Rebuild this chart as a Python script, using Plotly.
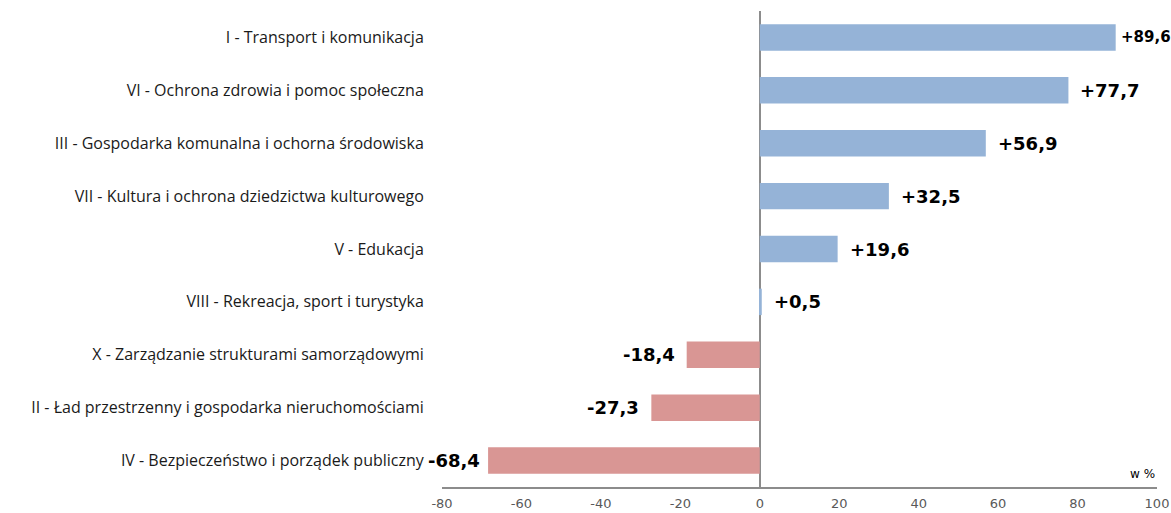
import plotly.graph_objects as go

# Budget categories (top to bottom) and percent change
categories = [
    "I - Transport i komunikacja",
    "VI - Ochrona zdrowia i pomoc społeczna",
    "III - Gospodarka komunalna i ochorna środowiska",
    "VII - Kultura i ochrona dziedzictwa kulturowego",
    "V - Edukacja",
    "VIII - Rekreacja, sport i turystyka",
    "X - Zarządzanie strukturami samorządowymi",
    "II - Ład przestrzenny i gospodarka nieruchomościami",
    "IV - Bezpieczeństwo i porządek publiczny",
]
values = [89.6, 77.7, 56.9, 32.5, 19.6, 0.5, -18.4, -27.3, -68.4]
x_ticks = [-80, -60, -40, -20, 0, 20, 40, 60, 80, 100]

POS = "#95B3D7"
NEG = "#D99694"
X_MIN, X_MAX = -80, 100

def fmt(v):
    s = f"{abs(v):.1f}".replace(".", ",")
    return ("+" if v >= 0 else "-") + s

fig = go.Figure(
    go.Bar(
        x=values,
        y=categories,
        orientation="h",
        marker=dict(color=[POS if v >= 0 else NEG for v in values], line=dict(width=0)),
        hoverinfo="skip",
    )
)

# Value labels just outside each bar end; bars reaching close to the
# axis limits get a tighter gap (and the rightmost a smaller font) so
# the label stays inside the figure.
for c, v in zip(categories, values):
    near_right = v > 0.85 * X_MAX
    near_left = v < 0.8 * X_MIN
    if v >= 0:
        shift = 3 if near_right else 10
    else:
        shift = -6 if near_left else -10
    fig.add_annotation(
        x=v, y=c, xref="x", yref="y",
        text=fmt(v), showarrow=False,
        xanchor="left" if v >= 0 else "right",
        xshift=shift,
        font=dict(family="DejaVu Sans", size=15 if near_right else 18,
                  color="#000000", weight="bold"),
    )

fig.add_annotation(
    x=1, y=0, xref="paper", yref="paper",
    text="w %", showarrow=False,
    xanchor="right", yanchor="bottom", yshift=4,
    font=dict(family="DejaVu Sans", size=12, color="#000000"),
)

fig.update_layout(
    width=1171, height=513,
    margin=dict(l=442, r=13.5, t=10.5, b=26),
    paper_bgcolor="white", plot_bgcolor="white",
    bargap=0.5,
    showlegend=False,
    xaxis=dict(
        range=[X_MIN, X_MAX],
        automargin=False,
        tickvals=x_ticks,
        ticktext=[str(t) for t in x_ticks],
        showgrid=False,
        zeroline=True, zerolinecolor="#8C8C8C", zerolinewidth=1.5,
        showline=True, linecolor="#8C8C8C", linewidth=1.5,
        ticks="outside", ticklen=4, tickcolor="rgba(0,0,0,0)",
        tickfont=dict(family="DejaVu Sans", size=13, color="#595959"),
    ),
    yaxis=dict(
        categoryorder="array", categoryarray=categories,
        autorange="reversed",
        automargin=False,
        showgrid=False, zeroline=False, showline=False,
        ticks="outside", ticklen=14, tickcolor="rgba(0,0,0,0)",
        tickfont=dict(family="Open Sans", size=16, color="#1A1A1A"),
    ),
)

fig.write_html("out.html")
